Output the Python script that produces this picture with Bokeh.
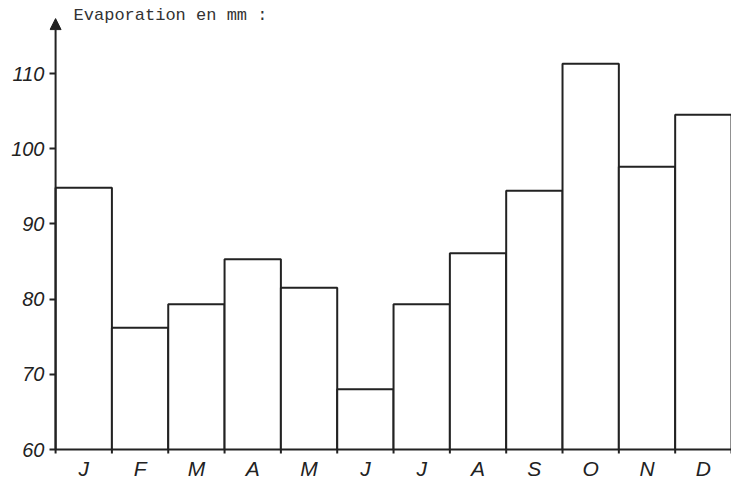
from bokeh.plotting import figure
from bokeh.models import FixedTicker, Range1d, Arrow, NormalHead, ColumnDataSource
from bokeh.core.properties import value
from bokeh.embed import file_html
from bokeh.resources import INLINE

months = ["J", "F", "M", "A", "M", "J", "J", "A", "S", "O", "N", "D"]
evaporation = [94.8, 76.2, 79.3, 85.3, 81.5, 68.0, 79.3, 86.1, 94.4, 111.3, 97.6, 104.5]
y_ticks = [60, 70, 80, 90, 100, 110]
title_text = "Evaporation en mm :"

ink = "#222222"
base = 60
centers = [i + 0.5 for i in range(len(months))]
bounds = list(range(len(months) + 1))

x_pad = 0.108  # small space left of the drawn y axis so the arrow head is not clipped
px_per_unit = 7.52

p = figure(width=731, height=486, output_backend="svg", toolbar_location=None,
           x_range=Range1d(-x_pad, 12),
           y_range=Range1d(base - 37 / px_per_unit, base + 449 / px_per_unit),
           min_border_left=49, min_border_right=0, min_border_top=0, min_border_bottom=0)
p.background_fill_color = "white"
p.border_fill_color = "white"
p.outline_line_color = None
p.xgrid.grid_line_color = None
p.ygrid.grid_line_color = None
p.xaxis.visible = False

src = ColumnDataSource(dict(x=centers, top=evaporation, m=months,
                            ly=[base - 19 / px_per_unit] * len(months)))
p.vbar(x="x", top="top", bottom=base, width=1.0, source=src,
       fill_color="white", line_color=ink, line_width=2)

# x "axis": ticks at bar boundaries, month letters under bars
p.segment(x0=bounds, y0=[base] * len(bounds), x1=bounds,
          y1=[base - 4 / px_per_unit] * len(bounds), line_color=ink, line_width=2)
p.text(x="x", y="ly", text="m", source=src, text_font=value("Liberation Sans"),
       text_font_style="italic", text_font_size="21px", text_color=ink,
       text_align="center", text_baseline="middle")

# y axis (line drawn by the arrow at x = 0)
p.yaxis.ticker = FixedTicker(ticks=y_ticks)
p.yaxis.major_tick_out = 0
p.yaxis.major_tick_in = 6
p.yaxis.minor_tick_line_color = None
p.yaxis.major_tick_line_color = ink
p.yaxis.major_tick_line_width = 2
p.yaxis.axis_line_color = None
p.yaxis.major_label_text_font = "Liberation Sans"
p.yaxis.major_label_text_font_style = "italic"
p.yaxis.major_label_text_font_size = "20px"
p.yaxis.major_label_text_color = ink
p.yaxis.major_label_standoff = 5

p.add_layout(Arrow(end=NormalHead(size=11, fill_color=ink, line_color=ink, line_width=1),
                   x_start=0, y_start=base, x_end=0, y_end=117.3,
                   line_color=ink, line_width=2))

# title
p.text(x=[0.32], y=[117.7], text=[title_text], text_font=value("Liberation Mono"),
       text_font_size="17px", text_color="#333333", text_baseline="alphabetic",
       text_align="left")

open("out.html", "w").write(file_html(p, INLINE))
